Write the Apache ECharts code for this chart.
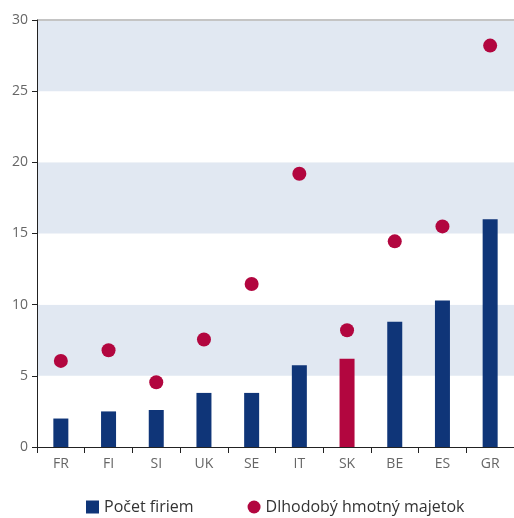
<!DOCTYPE html>
<html>
<head>
<meta charset="utf-8">
<script src="https://cdn.jsdelivr.net/npm/echarts@6/dist/echarts.min.js"></script>
<style>
  html, body { margin: 0; padding: 0; background: #fff; }
  #chart { width: 514px; height: 518px; }
</style>
</head>
<body>
<div id="chart"></div>
<script>
const categories = ["FR", "FI", "SI", "UK", "SE", "IT", "SK", "BE", "ES", "GR"];
const firmCount = [2.0, 2.5, 2.6, 3.8, 3.8, 5.75, 6.2, 8.8, 10.3, 16.0];
const fixedAssets = [6.05, 6.8, 4.55, 7.55, 11.45, 19.2, 8.2, 14.45, 15.5, 28.2];
const yTicks = [0, 5, 10, 15, 20, 25, 30];
const highlight = "SK";

const navy = "#0f3578";
const crimson = "#b2063f";
const font = "'Open Sans', 'Noto Sans', sans-serif";

const chart = echarts.init(document.getElementById("chart"), null, { renderer: "canvas" });

chart.setOption({
  animation: false,
  textStyle: { fontFamily: font },
  grid: { left: 37, right: 0, top: 20, bottom: 71 },
  legend: {
    bottom: -2,
    left: 81,
    itemGap: 54,
    itemWidth: 13,
    itemHeight: 13,
    textStyle: { fontSize: 16, color: "#333", fontFamily: font },
    data: [
      { name: "Počet firiem", icon: "rect" },
      { name: "Dlhodobý hmotný majetok", icon: "circle", itemStyle: { opacity: 1 } },
    ],
  },
  xAxis: {
    type: "category",
    data: categories,
    axisLine: { lineStyle: { color: "#222", width: 1 } },
    axisTick: { show: true, length: 6, lineStyle: { color: "#222" } },
    axisLabel: { color: "#666", fontSize: 14, margin: 10 },
  },
  yAxis: {
    type: "value",
    min: yTicks[0],
    max: yTicks[yTicks.length - 1],
    interval: 5,
    axisLine: { show: true, lineStyle: { color: "#222", width: 1 } },
    axisTick: { show: true, length: 5, lineStyle: { color: "#222" } },
    axisLabel: { color: "#666", fontSize: 14, margin: 9 },
    splitLine: {
      show: true,
      lineStyle: {
        color: yTicks.map((t, i) => (i === yTicks.length - 1 ? "#c4c4c4" : "rgba(0,0,0,0)")),
        width: 2,
      },
    },
    splitArea: { show: true, areaStyle: { color: ["#ffffff", "#e1e8f2"] } },
  },
  series: [
    {
      name: "Počet firiem",
      type: "bar",
      barWidth: 15,
      itemStyle: { color: navy },
      data: firmCount.map((v, i) =>
        categories[i] === highlight ? { value: v, itemStyle: { color: crimson } } : v
      ),
      z: 2,
    },
    {
      name: "Dlhodobý hmotný majetok",
      type: "scatter",
      symbol: "circle",
      symbolSize: 14,
      itemStyle: { color: crimson, opacity: 1 },
      data: fixedAssets,
      z: 3,
    },
  ],
});
</script>
</body>
</html>
